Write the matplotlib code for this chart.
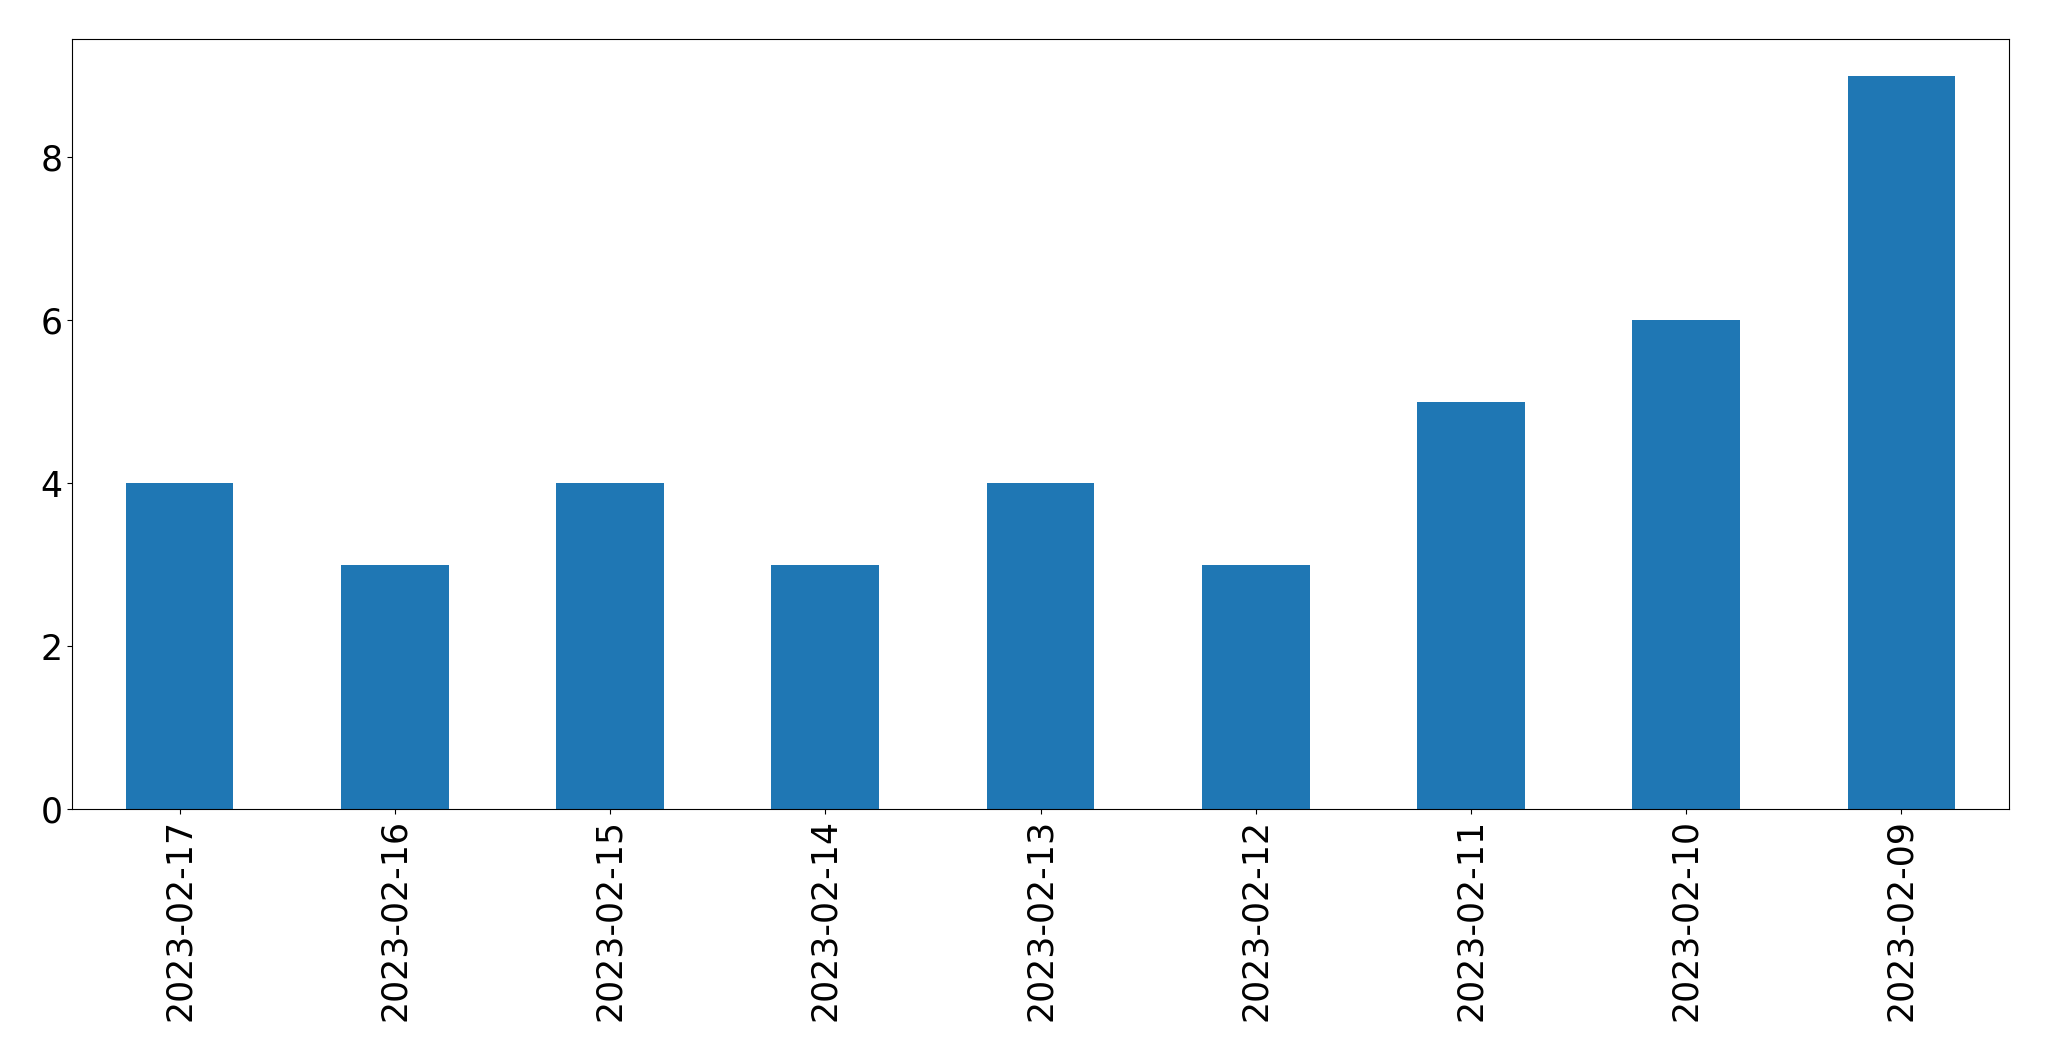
import matplotlib
matplotlib.use("Agg")
import matplotlib.pyplot as plt
import pandas as pd

dates = ["2023-02-17", "2023-02-16", "2023-02-15", "2023-02-14", "2023-02-13",
         "2023-02-12", "2023-02-11", "2023-02-10", "2023-02-09"]
counts = [4, 3, 4, 3, 4, 3, 5, 6, 9]

s = pd.Series(counts, index=dates)

fig, ax = plt.subplots(figsize=(20.49, 10.61), dpi=100)
s.plot(kind="bar", ax=ax, color="#1f77b4")
ax.tick_params(axis="both", labelsize=25)
plt.subplots_adjust(left=72 / 2049, right=2009 / 2049, top=1 - 39 / 1061, bottom=1 - 809 / 1061)
fig.savefig("out.png", dpi=100)
